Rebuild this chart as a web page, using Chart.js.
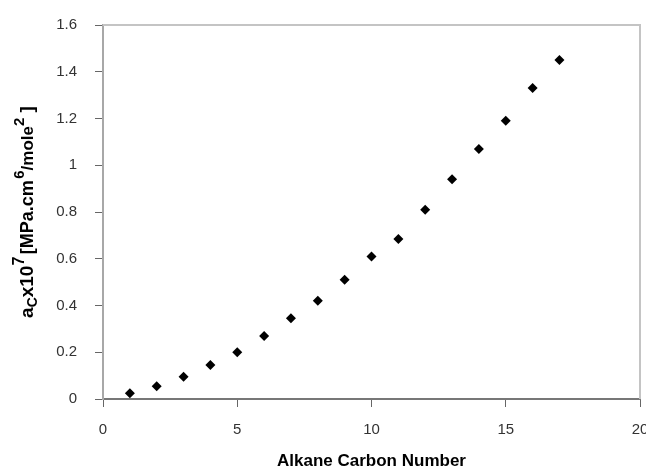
<!DOCTYPE html>
<html lang="en">
<head>
    <meta charset="UTF-8">
    <title>Alkane carbon number vs a_c</title>
    <script src="https://cdn.jsdelivr.net/npm/chart.js@4.4.0/dist/chart.umd.min.js"></script>
    <style>
        body { margin: 0; padding: 0; background: #fff; }
        #wrap { width: 646px; height: 470px; position: relative; }
    </style>
</head>
<body>
    <div id="wrap"><canvas id="chart"></canvas></div>
    <script>
        // data
        const carbonNumber = [1, 2, 3, 4, 5, 6, 7, 8, 9, 10, 11, 12, 13, 14, 15, 16, 17];
        const acValues = [0.025, 0.055, 0.095, 0.145, 0.2, 0.27, 0.345, 0.42, 0.51, 0.61, 0.685, 0.81, 0.94, 1.07, 1.19, 1.33, 1.45];
        const xTitle = 'Alkane Carbon Number';

        const fontFam = '"Liberation Sans", Arial, sans-serif';

        // light frame round the plot area, and the y title with sub/superscripts
        const framePlugin = {
            id: 'frame',
            afterDraw(chart) {
                const { ctx, chartArea: a } = chart;
                ctx.save();
                ctx.strokeStyle = '#c4c4c4';
                ctx.lineWidth = 2;
                ctx.beginPath();
                ctx.moveTo(a.left, a.top);
                ctx.lineTo(a.right, a.top);
                ctx.lineTo(a.right, a.bottom);
                ctx.stroke();

                // y axis title: a_C x10^7 [MPa.cm^6/mole^2]
                const parts = [
                    ['a', 0, 19], ['C', 4, 14], ['x10', 0, 19], ['7', -9, 16], [' ', 0, 9],
                    ['[MPa.cm', 0, 18], [' ', 0, 5], ['6', -9, 15], ['/mole', 0, 17], ['2', -9, 15], [' ]', 0, 19]
                ];
                ctx.fillStyle = '#000';
                ctx.textBaseline = 'alphabetic';
                let total = 0;
                parts.forEach(p => {
                    ctx.font = 'bold ' + p[2] + 'px ' + fontFam;
                    total += ctx.measureText(p[0]).width;
                });
                ctx.translate(33, (a.top + a.bottom) / 2 + total / 2);
                ctx.rotate(-Math.PI / 2);
                let x = 0;
                parts.forEach(p => {
                    ctx.font = 'bold ' + p[2] + 'px ' + fontFam;
                    ctx.fillText(p[0], x, p[1]);
                    x += ctx.measureText(p[0]).width;
                });
                ctx.restore();
            }
        };

        new Chart(document.getElementById('chart'), {
            type: 'scatter',
            data: {
                datasets: [{
                    label: 'a_c',
                    data: carbonNumber.map((c, i) => ({ x: c, y: acValues[i] })),
                    pointStyle: 'rectRot',
                    pointRadius: 5,
                    backgroundColor: '#000',
                    borderColor: '#000',
                    borderWidth: 0
                }]
            },
            options: {
                responsive: true,
                maintainAspectRatio: false,
                animation: false,
                layout: { padding: { left: 56, right: 6, top: 25, bottom: 0 } },
                plugins: {
                    legend: { display: false },
                    tooltip: { enabled: false }
                },
                scales: {
                    x: {
                        type: 'linear',
                        min: 0,
                        max: 20,
                        afterFit: s => { s.paddingLeft = 0; s.paddingRight = 0; s.height = 71; },
                        ticks: {
                            stepSize: 5,
                            color: '#333',
                            font: { family: fontFam, size: 15 },
                            padding: 14
                        },
                        grid: {
                            drawOnChartArea: false,
                            drawTicks: true,
                            tickLength: 8,
                            color: '#666'
                        },
                        border: { color: '#777', width: 2 },
                        title: {
                            display: true,
                            text: xTitle,
                            color: '#000',
                            font: { family: fontFam, size: 17, weight: 'bold', lineHeight: 1 },
                            padding: { top: 12, bottom: 0 }
                        }
                    },
                    y: {
                        min: 0,
                        max: 1.6,
                        afterFit: s => { s.paddingTop = 0; s.paddingBottom = 0; s.width = 47; },
                        ticks: {
                            stepSize: 0.2,
                            color: '#333',
                            font: { family: fontFam, size: 15 },
                            padding: 18,
                            callback: v => +v.toFixed(1)
                        },
                        grid: {
                            drawOnChartArea: false,
                            drawTicks: true,
                            tickLength: 8,
                            color: '#666'
                        },
                        border: { color: '#a8a8a8', width: 2 }
                    }
                }
            },
            plugins: [framePlugin]
        });
    </script>
</body>
</html>
